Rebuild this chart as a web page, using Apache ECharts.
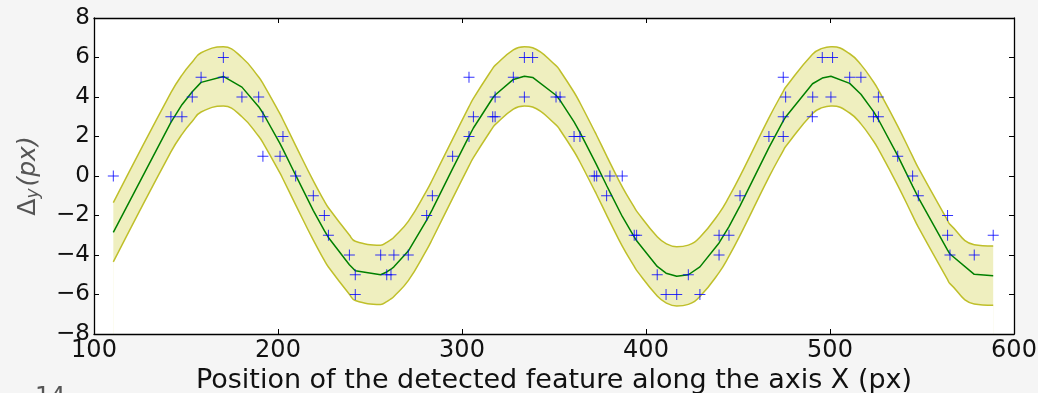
<!DOCTYPE html>
<html>
<head>
<meta charset="utf-8">
<script src="https://cdn.jsdelivr.net/npm/echarts@6/dist/echarts.min.js"></script>
<style>
html,body{margin:0;padding:0;background:#f5f5f5;}
#chart{width:1038px;height:393px;}
</style>
</head>
<body>
<div id="chart"></div>
<script>
// Detected feature offsets (x position in px, delta y in px)
const pointX = [110.5,141.8,147.8,153.4,158.2,170.3,170.3,180.4,189.5,191.8,191.8,201.1,202.7,209.6,219.2,225.2,227.4,238.8,242.0,242.0,255.8,259.1,261.4,263.0,270.8,280.8,283.9,294.9,303.8,303.8,306.2,316.7,318.0,318.0,327.9,333.9,333.9,338.4,351.1,353.3,360.9,364.1,371.9,373.2,378.6,380.4,387.1,393.6,394.9,406.1,410.9,416.7,423.0,429.3,439.7,439.7,445.1,451.1,466.8,474.6,474.6,474.6,475.9,490.4,490.6,495.8,500.5,501.4,510.7,516.8,523.6,526.3,526.3,536.8,544.9,548.0,563.9,563.9,565.2,578.4,588.7];
const pointY = [0,3,3,4,5,6,5,4,4,3,1,1,2,0,-1,-2,-3,-4,-5,-6,-4,-5,-5,-4,-4,-2,-1,1,2,5,3,3,3,4,5,6,4,6,4,4,2,2,0,0,-1,0,0,-3,-3,-5,-6,-6,-5,-6,-3,-4,-3,-1,2,5,3,2,4,3,4,6,4,6,5,5,3,4,3,1,0,-1,-2,-3,-4,-4,-3];

// Fitted curve evaluated at the feature positions
const fitX = [110.5,141.8,147.8,153.4,158.2,170.3,180.4,189.5,191.8,201.1,202.7,209.6,219.2,225.2,227.4,238.8,242.0,255.8,259.1,261.4,263.0,270.8,280.8,283.9,294.9,303.8,306.2,316.7,318.0,327.9,333.9,338.4,351.1,353.3,360.9,364.1,371.9,373.2,378.6,380.4,387.1,393.6,394.9,406.1,410.9,416.7,423.0,429.3,439.7,445.1,451.1,466.8,474.6,475.9,490.5,495.8,500.5,501.4,510.7,516.8,523.6,526.3,536.8,544.9,548.0,563.9,565.2,578.4,588.7];
const fitY = [-2.85,2.72,3.61,4.27,4.74,5.04,4.50,3.51,3.19,1.64,1.35,0.04,-1.75,-2.77,-3.11,-4.49,-4.80,-5.00,-4.86,-4.72,-4.60,-3.80,-2.24,-1.69,0.37,2.01,2.43,3.95,4.10,4.89,5.05,4.99,4.09,3.83,2.74,2.21,0.79,0.55,-0.48,-0.82,-2.05,-3.08,-3.28,-4.58,-4.92,-5.08,-5.00,-4.60,-3.39,-2.56,-1.51,1.44,2.79,2.99,4.67,4.96,5.05,5.05,4.69,4.14,3.27,2.86,1.03,-0.51,-1.09,-3.75,-3.95,-4.98,-5.05];
// Half width of the shaded confidence band
const bandHalfWidth = 1.5;

const xTicks = {min:100, max:600, interval:100};
const yTicks = {min:-8, max:8, interval:2};

const points = pointX.map((x,i)=>[x, pointY[i]]);
const fit = fitX.map((x,i)=>[x, fitY[i]]);
const bandLow = fitX.map((x,i)=>[x, fitY[i]-bandHalfWidth]);
const bandHigh = fitX.map((x,i)=>[x, fitY[i]+bandHalfWidth]);

const FONT = 'DejaVu Sans';
const minusFmt = v => (v < 0 ? '\u2212' + Math.abs(v) : String(v));
const bandColor = '#bfbf2a';
const frame = {show:true, onZero:false, lineStyle:{color:'#000', width:1.3}};

const chart = echarts.init(document.getElementById('chart'), null, {renderer:'canvas'});
const tickCommon = {show:true, inside:true, length:5, lineStyle:{color:'#000', width:1}};
chart.setOption({
  animation:false,
  backgroundColor:'#f5f5f5',
  grid:{left:94, right:24, top:18, bottom:59, show:true, backgroundColor:'#ffffff', borderWidth:0,
        containLabel:false, outerBoundsMode:'none'},
  xAxis:[{
    type:'value', min:xTicks.min, max:xTicks.max, interval:xTicks.interval, z:10,
    axisLine:frame, splitLine:{show:false}, axisTick:tickCommon,
    axisLabel:{fontFamily:FONT, fontSize:24, color:'#111', margin:5, formatter:minusFmt},
    name:'Position of the detected feature along the axis X (px)', nameLocation:'middle', nameGap:30,
    nameTextStyle:{fontFamily:FONT, fontSize:27, color:'#111'}
  },{
    type:'value', position:'top', min:xTicks.min, max:xTicks.max, interval:xTicks.interval, z:10,
    axisLine:frame, splitLine:{show:false}, axisTick:tickCommon, axisLabel:{show:false}
  }],
  yAxis:[{
    type:'value', min:yTicks.min, max:yTicks.max, interval:yTicks.interval, z:10,
    axisLine:frame, splitLine:{show:false}, axisTick:tickCommon,
    axisLabel:{fontFamily:FONT, fontSize:23, color:'#111', margin:4, formatter:minusFmt},
    name:'{d|\u0394}{s|y}{p|(px)}', nameLocation:'middle', nameGap:52, nameRotate:90,
    nameTextStyle:{rich:{
      d:{fontFamily:FONT, fontSize:25, color:'#555'},
      s:{fontFamily:FONT, fontStyle:'italic', fontSize:17, color:'#555', verticalAlign:'bottom', padding:[10,2,0,0]},
      p:{fontFamily:FONT, fontStyle:'italic', fontSize:25, color:'#555'}
    }}
  },{
    type:'value', position:'right', min:yTicks.min, max:yTicks.max, interval:yTicks.interval, z:10,
    axisLine:frame, splitLine:{show:false}, axisTick:tickCommon, axisLabel:{show:false}
  }],
  series:[
    {type:'line', data:bandHigh, smooth:0.45, symbol:'none', z:1,
     lineStyle:{color:bandColor, width:1.5}, areaStyle:{color:'#efefbf', opacity:1, origin:'start'}},
    {type:'line', data:bandLow, smooth:0.45, symbol:'none', z:1,
     lineStyle:{color:bandColor, width:1.5}, areaStyle:{color:'#ffffff', opacity:1, origin:'start'}},
    {type:'line', data:fit, symbol:'none', z:2, lineStyle:{color:'#008000', width:1.5}},
    {type:'scatter', data:points, z:3, symbol:'path://M0,5L10,5M5,0L5,10', symbolSize:11,
     itemStyle:{color:'#0000ff', borderColor:'#0000ff', borderWidth:1}}
  ],
  graphic:[{type:'text', left:35, top:386, style:{text:'14', font:'24px "DejaVu Sans"', fill:'#555'}}]
});
</script>
</body>
</html>
